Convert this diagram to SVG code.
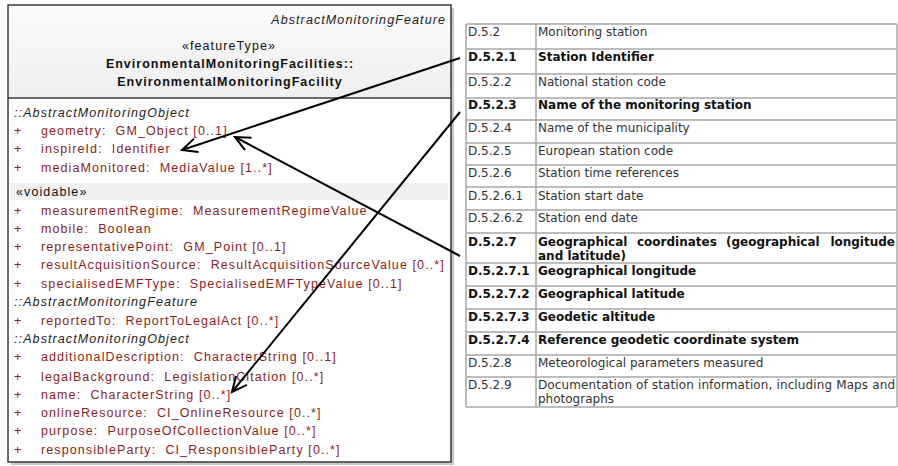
<svg xmlns="http://www.w3.org/2000/svg" width="898" height="466" viewBox="0 0 898 466">
<style>
.uml{font-family:"Liberation Sans",Arial,sans-serif;font-size:12.5px;letter-spacing:1.1px}
.it{font-style:italic;fill:#222}
.hd{font-weight:bold;fill:#111;text-anchor:middle;letter-spacing:1px}
.at{fill:#8b1e1e}
.tb{font-family:"DejaVu Sans",Verdana,sans-serif;font-size:12px;fill:#333}
.b{font-weight:bold;fill:#111}
.grid{stroke:#a8a8a8;stroke-width:1.5;fill:none}
.conn{stroke:#000;stroke-width:2;fill:none}
</style>
<defs>
<linearGradient id="hg" x1="0" y1="0" x2="0" y2="1">
<stop offset="0" stop-color="#fafafa"/><stop offset="1" stop-color="#efefef"/>
</linearGradient>
<marker id="ah" markerUnits="userSpaceOnUse" markerWidth="20" markerHeight="20" refX="16" refY="8" orient="auto">
<path d="M1,1 L16,8 L1,15" fill="none" stroke="#000" stroke-width="2"/>
</marker>
</defs>
<rect width="898" height="466" fill="#fff"/>
<g id="class-EnvironmentalMonitoringFacility">
<rect x="11" y="8" width="443" height="457" fill="#c8c8c8"/>
<rect x="8" y="5" width="443" height="457" fill="#fff" stroke="#3a3a3a" stroke-width="1.5"/>
<rect x="9" y="6" width="441" height="92" fill="url(#hg)"/>
<line x1="8" y1="98" x2="451" y2="98" stroke="#3a3a3a" stroke-width="1.5"/>
<rect x="10" y="183" width="438" height="17" fill="#f0f0f0"/>
<g class="uml">
<text class="it" x="446" y="24" text-anchor="end">AbstractMonitoringFeature</text>
<text x="229" y="50" text-anchor="middle" fill="#111">«featureType»</text>
<text class="hd" x="230" y="68">EnvironmentalMonitoringFacilities::</text>
<text class="hd" x="230" y="86">EnvironmentalMonitoringFacility</text>
<text class="it" x="14" y="117">::AbstractMonitoringObject</text>
<text class="at" x="14" y="135">+</text><text class="at" x="41" y="135">geometry:&#160; GM_Object [0..1]</text>
<text class="at" x="14" y="153">+</text><text class="at" x="41" y="153">inspireId:&#160; Identifier</text>
<text class="at" x="14" y="172">+</text><text class="at" x="41" y="172">mediaMonitored:&#160; MediaValue [1..*]</text>
<text x="16" y="196" fill="#111">«voidable»</text>
<text class="at" x="14" y="215">+</text><text class="at" x="41" y="215">measurementRegime:&#160; MeasurementRegimeValue</text>
<text class="at" x="14" y="233">+</text><text class="at" x="41" y="233">mobile:&#160; Boolean</text>
<text class="at" x="14" y="251">+</text><text class="at" x="41" y="251">representativePoint:&#160; GM_Point [0..1]</text>
<text class="at" x="14" y="269">+</text><text class="at" x="41" y="269">resultAcquisitionSource:&#160; ResultAcquisitionSourceValue [0..*]</text>
<text class="at" x="14" y="288">+</text><text class="at" x="41" y="288">specialisedEMFType:&#160; SpecialisedEMFTypeValue [0..1]</text>
<text class="it" x="14" y="306">::AbstractMonitoringFeature</text>
<text class="at" x="14" y="325">+</text><text class="at" x="41" y="325">reportedTo:&#160; ReportToLegalAct [0..*]</text>
<text class="it" x="14" y="343">::AbstractMonitoringObject</text>
<text class="at" x="14" y="361">+</text><text class="at" x="41" y="361">additionalDescription:&#160; CharacterString [0..1]</text>
<text class="at" x="14" y="381">+</text><text class="at" x="41" y="381">legalBackground:&#160; LegislationCitation [0..*]</text>
<text class="at" x="14" y="399">+</text><text class="at" x="41" y="399">name:&#160; CharacterString [0..*]</text>
<text class="at" x="14" y="417">+</text><text class="at" x="41" y="417">onlineResource:&#160; CI_OnlineResource [0..*]</text>
<text class="at" x="14" y="435">+</text><text class="at" x="41" y="435">purpose:&#160; PurposeOfCollectionValue [0..*]</text>
<text class="at" x="14" y="454">+</text><text class="at" x="41" y="454">responsibleParty:&#160; CI_ResponsibleParty [0..*]</text>
</g>
</g>
<g id="table-D52">
<path class="grid" d="M466,24 H897 M466,49 H897 M466,74 H897 M466,98 H897 M466,120 H897 M466,143 H897 M466,165 H897 M466,187 H897 M466,210 H897 M466,233 H897 M466,263 H897 M466,286 H897 M466,309 H897 M466,332 H897 M466,355 H897 M466,377 H897 M466,407 H897 M466,24 V407 M536,24 V407 M897,24 V407"/>
<g class="tb">
<text x="468" y="36">D.5.2</text><text x="538" y="36">Monitoring station</text>
<text class="b" x="468" y="61">D.5.2.1</text><text class="b" x="538" y="61">Station Identifier</text>
<text x="468" y="86">D.5.2.2</text><text x="538" y="86">National station code</text>
<text class="b" x="468" y="109">D.5.2.3</text><text class="b" x="538" y="109">Name of the monitoring station</text>
<text x="468" y="132">D.5.2.4</text><text x="538" y="132">Name of the municipality</text>
<text x="468" y="155">D.5.2.5</text><text x="538" y="155">European station code</text>
<text x="468" y="177">D.5.2.6</text><text x="538" y="177">Station time references</text>
<text x="468" y="200">D.5.2.6.1</text><text x="538" y="200">Station start date</text>
<text x="468" y="222">D.5.2.6.2</text><text x="538" y="222">Station end date</text>
<text class="b" x="468" y="246">D.5.2.7</text>
<text class="b" x="538" y="246">Geographical</text><text class="b" x="637" y="246">coordinates</text><text class="b" x="726" y="246">(geographical</text><text class="b" x="895" y="246" text-anchor="end">longitude</text>
<text class="b" x="538" y="260">and latitude)</text>
<text class="b" x="468" y="275">D.5.2.7.1</text><text class="b" x="538" y="275">Geographical longitude</text>
<text class="b" x="468" y="298">D.5.2.7.2</text><text class="b" x="538" y="298">Geographical latitude</text>
<text class="b" x="468" y="321">D.5.2.7.3</text><text class="b" x="538" y="321">Geodetic altitude</text>
<text class="b" x="468" y="344">D.5.2.7.4</text><text class="b" x="538" y="344">Reference geodetic coordinate system</text>
<text x="468" y="367">D.5.2.8</text><text x="538" y="367">Meteorological parameters measured</text>
<text x="468" y="389">D.5.2.9</text><text x="538" y="389" textLength="357" lengthAdjust="spacing">Documentation of station information, including Maps and</text>
<text x="538" y="403">photographs</text>
</g>
</g>
<g id="connectors">
<line class="conn" x1="460" y1="58" x2="182" y2="150" marker-end="url(#ah)"/>
<line class="conn" x1="460" y1="112" x2="232" y2="392" marker-end="url(#ah)"/>
<line class="conn" x1="460" y1="256" x2="235" y2="137" marker-end="url(#ah)"/>
</g>
</svg>
